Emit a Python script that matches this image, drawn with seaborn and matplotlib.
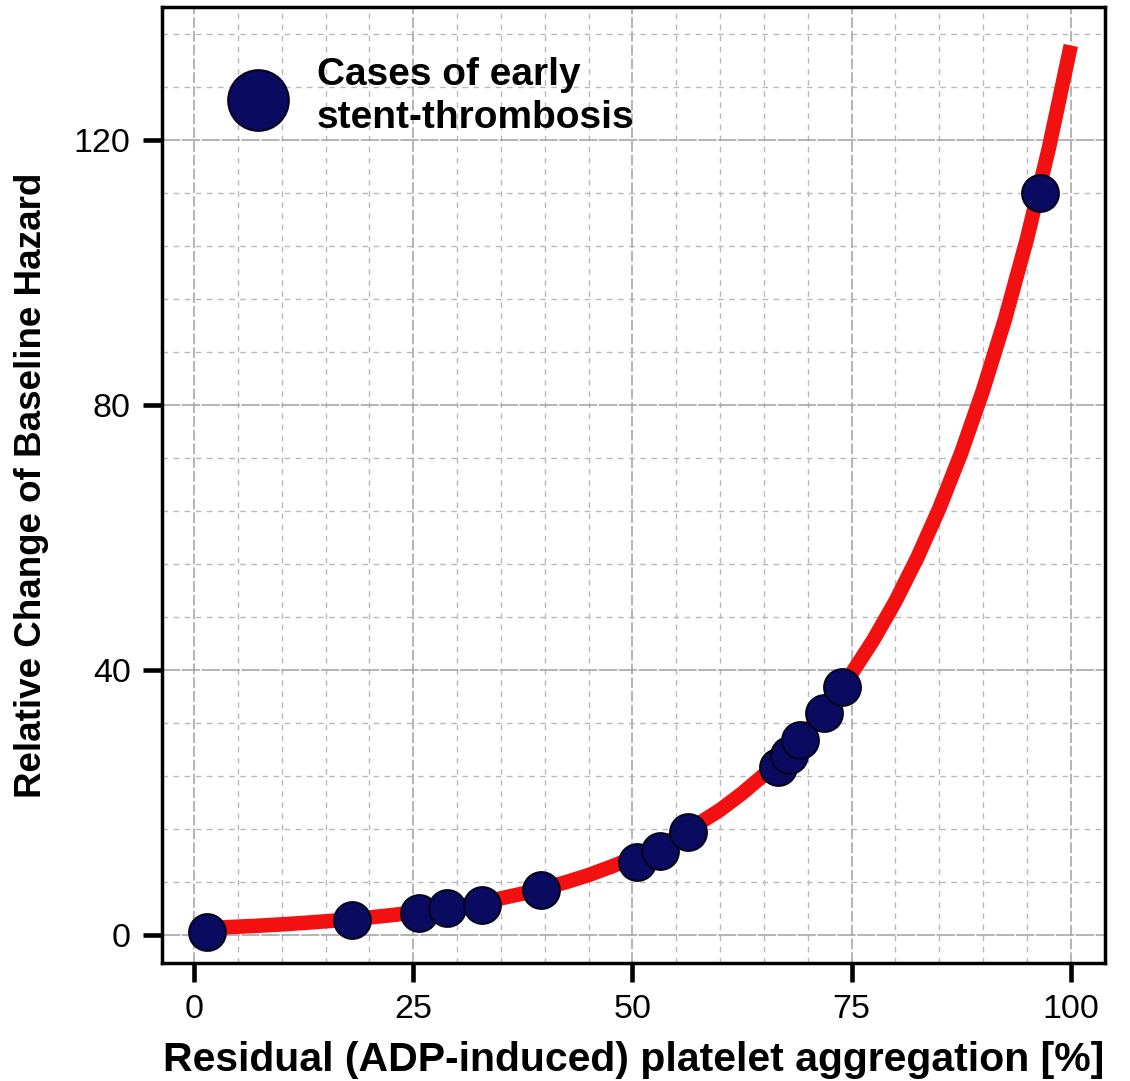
import numpy as np
import pandas as pd
import matplotlib
matplotlib.use("Agg")
import matplotlib.pyplot as plt
import seaborn as sns
from matplotlib.ticker import MultipleLocator

sns.set_style("white")
plt.rcParams['font.family'] = ['Liberation Sans', 'DejaVu Sans']
plt.rcParams['text.color'] = 'black'
plt.rcParams['axes.labelcolor'] = 'black'
plt.rcParams['xtick.color'] = 'black'
plt.rcParams['ytick.color'] = 'black'

# Fitted curve
curve_x = [0, 2.5, 5, 7.5, 10, 12.5, 15, 17.5, 20, 22.5, 25, 27.5, 30, 32.5, 35, 37.5, 40,
           42.5, 45, 47.5, 50, 52.5, 55, 57.5, 60, 62.5, 65, 67.5, 70, 72.5, 75, 77.5, 80,
           82.5, 85, 87.5, 90, 92.5, 95, 97.5, 100]
curve_y = [1.0, 1.13, 1.28, 1.44, 1.63, 1.85, 2.09, 2.36, 2.67, 3.02, 3.41, 3.85, 4.35, 4.92,
           5.56, 6.29, 7.10, 8.03, 9.07, 10.3, 11.6, 13.1, 14.8, 16.8, 18.9, 21.4, 24.2, 27.4,
           30.9, 34.9, 39.5, 44.6, 50.4, 57.0, 64.4, 72.8, 82.3, 93.0, 105.1, 118.8, 134.3]

# Cases of early stent-thrombosis
case_x = [1.5, 18.0, 25.7, 28.9, 32.9, 39.6, 50.5, 53.1, 56.3, 66.6, 67.9, 69.1, 71.9, 73.9, 96.5]
case_y = [0.5, 2.3, 3.3, 4.1, 4.5, 6.8, 11.0, 12.7, 15.5, 25.4, 27.2, 29.4, 33.5, 37.4, 112.0]

x_ticks = [0, 25, 50, 75, 100]
y_ticks = [0, 40, 80, 120]
legend_label = "Cases of early\nstent-thrombosis"
x_label = "Residual (ADP-induced) platelet aggregation [%]"
y_label = "Relative Change of Baseline Hazard"

curve = pd.DataFrame({"x": curve_x, "y": curve_y})
cases = pd.DataFrame({"x": case_x, "y": case_y})

fig = plt.figure(figsize=(11.3, 10.81), dpi=100)
ax = fig.add_axes([162/1130, 1 - 963/1081, (1105-162)/1130, (963-7)/1081])

ax.set_xlim(-3.65, 103.9)
ax.set_ylim(-4.2, 140.1)

ax.xaxis.set_minor_locator(MultipleLocator(5))
ax.yaxis.set_minor_locator(MultipleLocator(8))
ax.set_xticks(x_ticks)
ax.set_yticks(y_ticks)

ax.grid(which='major', axis='x', color='#a0a0a0', linestyle=(0, (7, 2)), linewidth=1.1)
ax.grid(which='major', axis='y', color='#a0a0a0', linestyle=(0, (12, 1)), linewidth=1.1)
ax.grid(which='minor', color='#b8b8b8', linestyle=(0, (4, 4)), linewidth=1.0)
ax.set_axisbelow(True)

sns.lineplot(data=curve, x="x", y="y", ax=ax, color='#f21010', linewidth=10.5,
             solid_capstyle='butt', zorder=3)
sns.scatterplot(data=cases, x="x", y="y", ax=ax, s=700, color='#0a0a60',
                edgecolor='#050520', linewidth=1.5, zorder=4, label=legend_label)

for sp in ax.spines.values():
    sp.set_visible(True)
    sp.set_color('black')
    sp.set_linewidth(2.5)

ax.tick_params(which='major', direction='out', length=13.5, width=3.3, color='black',
               labelsize=24.5, pad=9, bottom=True, left=True)
ax.tick_params(which='minor', length=0)

ax.set_xlabel(x_label, fontsize=29.5, fontweight='bold', labelpad=11)
ax.set_ylabel(y_label, fontsize=26.5, fontweight='bold', labelpad=18)

leg = ax.legend(loc='upper left', frameon=False, fontsize=28, markerscale=1.65,
                handletextpad=0.5, borderaxespad=0.3, bbox_to_anchor=(0.032, 0.976))
for t in leg.get_texts():
    t.set_fontweight('bold')
    t.set_linespacing(1.25)

fig.savefig("out.png", dpi=100)
